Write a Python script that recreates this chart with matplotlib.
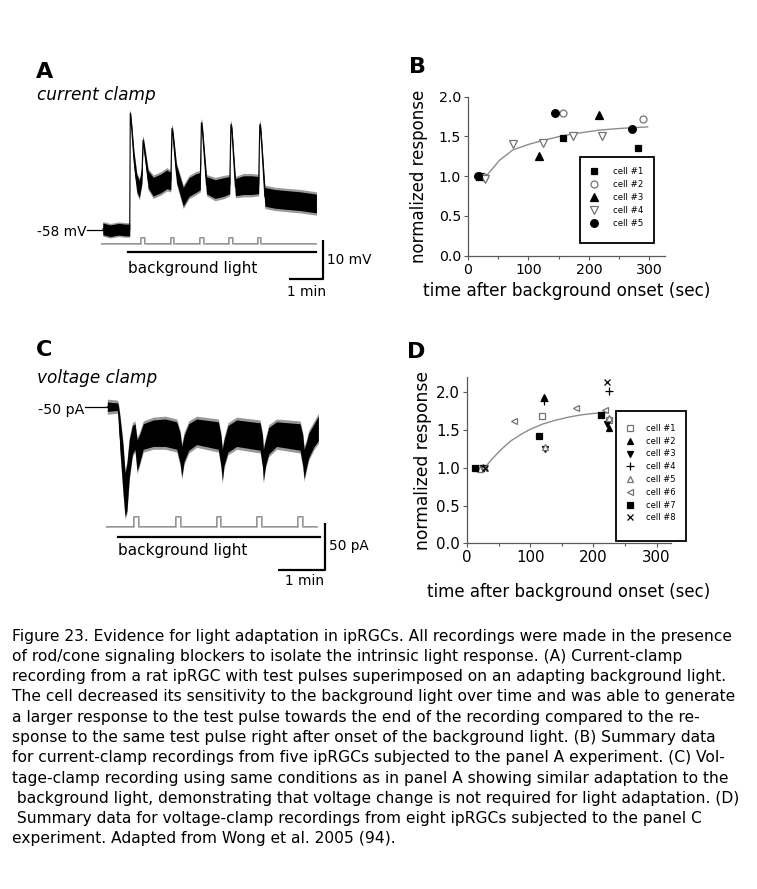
import numpy as np
import matplotlib
matplotlib.use("Agg")
import matplotlib.pyplot as plt
from matplotlib.patches import Rectangle

plt.rcParams['font.family'] = ['DejaVu Sans']

W, H = 757, 889

# ---- panel A: current clamp trace (time in s, membrane potential in mV)
a_time = [-48, -35, -20, -8, -0.5, 0.5, 3, 7, 12, 16.5, 21, 23, 25, 32, 41, 55, 65,
          72, 74, 76, 82, 94, 104, 116, 124, 126, 128, 135, 150, 165, 176, 178, 180,
          186, 200, 215, 227, 229, 231, 238, 255, 276, 300, 329]
a_mv = [-57.7, -58.2, -57.8, -58, -58, -28, -32, -40, -46, -47.5, -44, -35, -37, -45,
        -46.9, -46, -45, -45.5, -32, -34, -43.5, -49.5, -47, -46, -45.5, -30.5, -33,
        -46.5, -47.5, -47, -46.5, -31, -33, -47, -46.5, -46.5, -46.5, -31, -33, -49.5,
        -50, -50.3, -50.6, -51.2]
a_noise = [1.5, 1.5, 1.5, 1.5, 1.5, 0.8, 1.2, 2.0, 2.2, 2.2, 2.0, 1.0, 1.2, 2.2, 2.4,
           2.4, 2.4, 2.2, 1.0, 1.2, 2.2, 2.4, 2.4, 2.4, 2.2, 1.0, 1.2, 2.2, 2.4, 2.4,
           2.2, 1.0, 1.2, 2.2, 2.4, 2.4, 2.2, 1.0, 1.2, 2.4, 2.4, 2.4, 2.4, 2.4]
a_pulses = [23, 75, 127, 178, 229]

# ---- panel C: voltage clamp trace (time in s, current in pA)
c_time = [-14, -1, 0, 2, 6, 8.6, 11, 14, 18, 21.3, 24, 27, 31.9, 44.7, 60, 74.6, 79,
          81, 84, 90, 100, 127.7, 131, 132.8, 135, 140, 151, 181, 184, 185.2, 188, 192,
          202, 232, 235.5, 237.2, 240, 243, 250, 255.4]
c_upper = [-45, -46, -48, -60, -90, -120, -110, -85, -70, -68, -85, -80, -68, -64, -63,
           -66, -78, -92, -80, -68, -63, -66, -80, -95, -85, -70, -64, -67, -80, -95,
           -85, -72, -66, -68, -80, -95, -88, -78, -68, -60]
c_lower = [-55, -54, -56, -95, -140, -166, -160, -125, -100, -95, -118, -110, -95, -92,
           -92, -95, -110, -124, -108, -96, -90, -95, -112, -128, -112, -98, -92, -96,
           -112, -128, -112, -100, -92, -96, -112, -126, -115, -104, -92, -86]
c_pulses = [23.5, 76.6, 128.5, 180, 233]

# ---- panel B: current-clamp summary
b_cells = ['cell #1', 'cell #2', 'cell #3', 'cell #4', 'cell #5']
b_x = [[22, 157, 281], [27, 157, 290], [20, 117, 216], [28, 74, 124, 173, 222], [17, 144, 271]]
b_y = [[1.0, 1.48, 1.36], [0.99, 1.79, 1.72], [1.0, 1.25, 1.77],
       [0.97, 1.41, 1.42, 1.50, 1.50], [1.0, 1.79, 1.59]]
b_fit_x = [30, 40, 52, 74, 100, 124, 157, 190, 217, 250, 272, 297]
b_fit_y = [1.0, 1.09, 1.2, 1.33, 1.40, 1.45, 1.51, 1.55, 1.58, 1.60, 1.61, 1.62]

# ---- panel D: voltage-clamp summary
d_cells = ['cell #1', 'cell #2', 'cell #3', 'cell #4', 'cell #5', 'cell #6', 'cell #7', 'cell #8']
d_x = [[20, 118, 225], [22, 122, 224], [25, 123, 222], [25, 122, 224], [20, 123, 224],
       [27, 74, 172, 218], [12, 114, 212], [28, 222]]
d_y = [[1.0, 1.69, 1.63], [1.0, 1.94, 1.53], [1.0, 1.25, 1.58], [1.0, 1.88, 2.02],
       [0.98, 1.27, 1.66], [1.0, 1.62, 1.79, 1.76], [1.0, 1.42, 1.70], [1.0, 2.13]]
d_fit_x = [28, 40, 55, 70, 85, 100, 120, 140, 160, 180, 200, 222]
d_fit_y = [1.0, 1.12, 1.25, 1.36, 1.44, 1.51, 1.58, 1.63, 1.67, 1.70, 1.72, 1.73]

caption = [
    "Figure 23. Evidence for light adaptation in ipRGCs. All recordings were made in the presence",
    "of rod/cone signaling blockers to isolate the intrinsic light response. (A) Current-clamp",
    "recording from a rat ipRGC with test pulses superimposed on an adapting background light.",
    "The cell decreased its sensitivity to the background light over time and was able to generate",
    "a larger response to the test pulse towards the end of the recording compared to the re-",
    "sponse to the same test pulse right after onset of the background light. (B) Summary data",
    "for current-clamp recordings from five ipRGCs subjected to the panel A experiment. (C) Vol-",
    "tage-clamp recording using same conditions as in panel A showing similar adaptation to the",
    " background light, demonstrating that voltage change is not required for light adaptation. (D)",
    " Summary data for voltage-clamp recordings from eight ipRGCs subjected to the panel C",
    "experiment. Adapted from Wong et al. 2005 (94).",
]


def px_axes(x0, y0, x1, y1):
    return fig.add_axes([x0 / W, 1 - y1 / H, (x1 - x0) / W, (y1 - y0) / H])


def trace_axes(box, x_org, y_org, t_org, v_org, px_t, px_v):
    x0, y0, x1, y1 = box
    ax = px_axes(x0, y0, x1, y1)
    ax.set_xlim(t_org + (x0 - x_org) / px_t, t_org + (x1 - x_org) / px_t)
    ax.set_ylim(v_org - (y1 - y_org) / px_v, v_org + (y_org - y0) / px_v)
    ax.axis('off')
    return ax


def ftext(x, y, s, **kw):
    fig.text(x / W, 1 - y / H, s, **kw)


def frame(x0, y0, x1, y1):
    fig.patches.append(Rectangle((x0 / W, 1 - y1 / H), (x1 - x0) / W, (y1 - y0) / H,
                                 transform=fig.transFigure, fill=False, ec='k', lw=1.3))


def stim_line(ax, t0, t1, base, height, pulses):
    st, sv = [t0], [base]
    for p in pulses:
        st += [p - 3, p - 3, p + 3, p + 3]
        sv += [base, base + height, base + height, base]
    st.append(t1)
    sv.append(base)
    ax.plot(st, sv, color='0.5', lw=1.2)
    ax.plot(st, sv, color='0.78', lw=0.5)


fig = plt.figure(figsize=(W / 100, H / 100), dpi=100)

# ---------------- panel A
ax_a = trace_axes((20, 95, 370, 300), 130, 230, 0, -58, 34 / 60, 3.9)
t = np.array(a_time)
v = np.array(a_mv)
n = np.array(a_noise)
ax_a.fill_between(t, v - 1.25 * n, v + 1.25 * n, color='0.6', lw=0)
ax_a.fill_between(t, v - n, v + n, color='k', lw=0)
ax_a.plot(t, v, color='k', lw=0.8)

stim_line(ax_a, -50, 329, -61.7, 1.6, a_pulses)
ax_a.plot([-3, 329], [-63.7, -63.7], color='k', lw=1.6)
ax_a.text(-3, -67.8, 'background light', fontsize=11, va='center', ha='left')
ax_a.plot([-76, -48], [-58, -58], color='k', lw=0.9)
ax_a.text(-77, -58.6, '-58 mV', fontsize=9.8, va='center', ha='right')
# scale bars 10 mV, 1 min
ax_a.plot([280, 340, 340], [-70.6, -70.6, -60.6], color='k', lw=1.6, solid_capstyle='butt')
ax_a.text(347, -65.6, '10 mV', fontsize=9.8, va='center', ha='left', clip_on=False)
ax_a.text(312, -73.8, '1 min', fontsize=9.8, va='center', ha='center')

ftext(36, 72, 'A', fontsize=16, fontweight='bold', va='center')
ftext(37, 95, 'current clamp', fontsize=12.2, style='italic', va='center')

# ---------------- panel C
ax_c = trace_axes((20, 390, 370, 600), 118.3, 406.7, 0, -50, 47 / 60, 47.3 / 50)
t = np.array(c_time)
up = np.array(c_upper)
lo = np.array(c_lower)
ax_c.fill_between(t, lo - 3, up + 3, color='0.6', lw=0)
ax_c.fill_between(t, lo, up, color='k', lw=0)
ax_c.plot(t, (up + lo) / 2, color='k', lw=0.8)

stim_line(ax_c, -14, 253.7, -176.7, 10.5, c_pulses)
ax_c.plot([0, 257.6], [-187.3, -187.3], color='k', lw=1.6)
ax_c.text(0, -201.5, 'background light', fontsize=11, va='center', ha='left')
ax_c.plot([-42, -15], [-50, -50], color='k', lw=0.9)
ax_c.text(-43, -53.5, '-50 pA', fontsize=10.2, va='center', ha='right')
ax_c.plot([204, 264, 264], [-222.4, -222.4, -172.5], color='k', lw=1.6, solid_capstyle='butt')
ax_c.text(269, -197, '50 pA', fontsize=9.8, va='center', ha='left', clip_on=False)
ax_c.text(238, -234.5, '1 min', fontsize=9.8, va='center', ha='center')

ftext(36, 350, 'C', fontsize=16, fontweight='bold', va='center')
ftext(37, 378, 'voltage clamp', fontsize=12.2, style='italic', va='center')


# ---------------- scatter panels
def style_axes(ax, xmax, ymax, tick_fs):
    ax.set_xlim(0, xmax)
    ax.set_ylim(0, ymax)
    for s in ('top', 'right'):
        ax.spines[s].set_visible(False)
    for s in ('left', 'bottom'):
        ax.spines[s].set_color('0.35')
        ax.spines[s].set_linewidth(0.9)
    ax.set_xticks([0, 100, 200, 300])
    ax.set_xticks([50, 150, 250], minor=True)
    ax.set_yticks([0, 0.5, 1.0, 1.5, 2.0])
    ax.set_yticklabels(['0.0', '0.5', '1.0', '1.5', '2.0'])
    ax.tick_params(direction='out', length=3, width=0.8, color='0.35', labelsize=tick_fs, pad=2)
    ax.tick_params(which='minor', direction='out', length=2, width=0.8, color='0.35')


b_marks = [dict(marker='s', mfc='k', mec='k', ms=4.5),
           dict(marker='o', mfc='w', mec='0.45', ms=5),
           dict(marker='^', mfc='k', mec='k', ms=5.5),
           dict(marker='v', mfc='w', mec='0.45', ms=5.5),
           dict(marker='o', mfc='k', mec='k', ms=5.5)]

ax_b = px_axes(468, 96.7, 664.6, 255.7)
style_axes(ax_b, 325, 2.0, 10.2)
ax_b.plot(b_fit_x, b_fit_y, color='0.55', lw=1.0)
for name, xs, ys, mk in zip(b_cells, b_x, b_y, b_marks):
    ax_b.plot(xs, ys, ls='none', label=name, clip_on=False, mew=0.9, **mk)
ax_b.set_ylabel('normalized response', fontsize=12, labelpad=8)
ax_b.set_xlabel('time after background onset (sec)', fontsize=12.2, labelpad=4)
ax_b.legend(loc='upper left', bbox_to_anchor=(589.7 / W, 1 - 167 / H),
            bbox_transform=fig.transFigure, borderaxespad=0, borderpad=0, frameon=False,
            fontsize=6.2, handlelength=1.0, handletextpad=1.7, labelspacing=0.47)
frame(580, 157, 654, 243)
ftext(409, 67, 'B', fontsize=16, fontweight='bold', va='center')

d_marks = [dict(marker='s', mfc='w', mec='0.45', ms=4.5),
           dict(marker='^', mfc='k', mec='k', ms=5),
           dict(marker='v', mfc='k', mec='k', ms=5),
           dict(marker='+', mfc='k', mec='k', ms=6),
           dict(marker='^', mfc='w', mec='0.45', ms=5),
           dict(marker='<', mfc='w', mec='0.45', ms=5),
           dict(marker='s', mfc='k', mec='k', ms=4.5),
           dict(marker='x', mfc='k', mec='k', ms=5)]

ax_d = px_axes(467, 377.2, 670.5, 543.3)
style_axes(ax_d, 322, 2.2, 10.8)
ax_d.plot(d_fit_x, d_fit_y, color='0.55', lw=1.0)
for name, xs, ys, mk in zip(d_cells, d_x, d_y, d_marks):
    ax_d.plot(xs, ys, ls='none', label=name, clip_on=False, mew=0.9, **mk)
ax_d.set_ylabel('normalized response', fontsize=12.3, labelpad=3)
ax_d.set_xlabel('time after background onset (sec)', fontsize=12.0, labelpad=13)
ax_d.legend(loc='upper left', bbox_to_anchor=(625.8 / W, 1 - 424 / H),
            bbox_transform=fig.transFigure, borderaxespad=0, borderpad=0, frameon=False,
            fontsize=6.0, handlelength=1.0, handletextpad=1.42, labelspacing=0.45)
frame(616, 411, 686, 541)
ftext(407, 352, 'D', fontsize=16, fontweight='bold', va='center')

# ---------------- caption
for i, line in enumerate(caption):
    ftext(12, 636 + i * 20.3, line, fontsize=11.2, va='center', ha='left')

fig.savefig('out.png', dpi=100)
